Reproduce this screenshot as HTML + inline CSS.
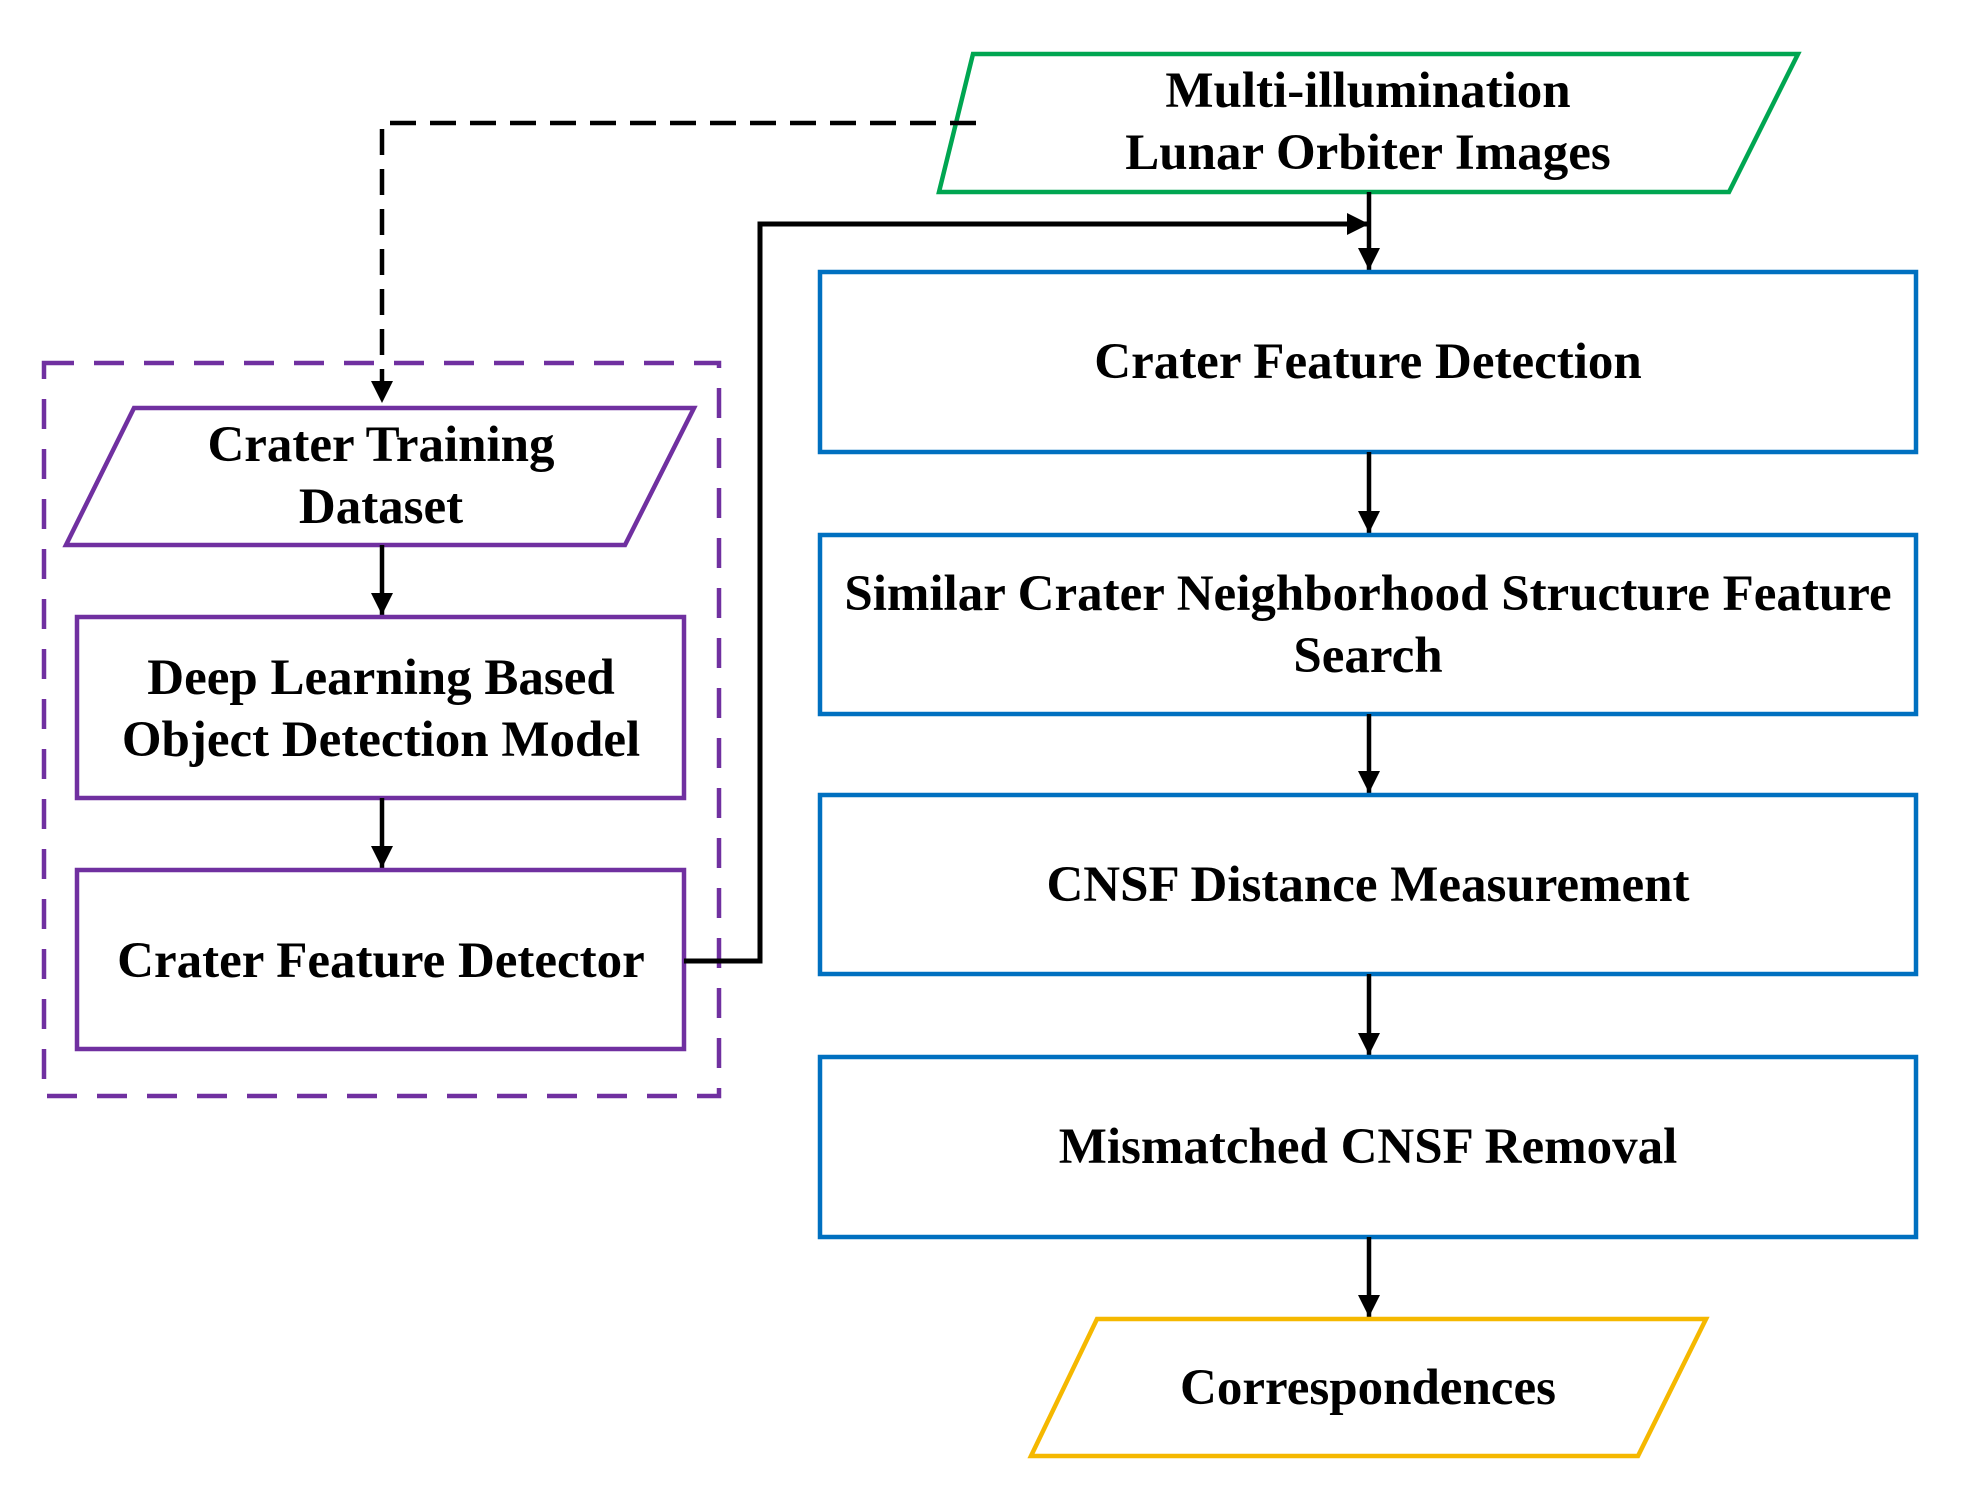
<!DOCTYPE html>
<html><head><meta charset="utf-8"><style>
html,body{margin:0;padding:0;background:#fff;}
svg{display:block;}
text{font-family:"Liberation Serif",serif;font-weight:bold;font-size:51px;fill:#000;text-anchor:middle;}
</style></head><body>
<svg width="1964" height="1506" viewBox="0 0 1964 1506" xmlns="http://www.w3.org/2000/svg">
<defs>
<marker id="b" viewBox="0 0 10 10" refX="10" refY="5" markerWidth="22" markerHeight="22" orient="auto" markerUnits="userSpaceOnUse"><path d="M0,0 L10,5 L0,10 z" fill="#000"/></marker>
</defs>
<polygon points="973,54 1798,54 1729,192 939,192" fill="none" stroke="#00a651" stroke-width="4.5"/>
<text x="1368" y="107">Multi-illumination</text>
<text x="1368" y="169">Lunar Orbiter Images</text>
<polyline points="976,123 382,123 382,403" fill="none" stroke="#000" stroke-width="4.5" stroke-dasharray="26,14" marker-end="url(#b)"/>
<rect x="44" y="363" width="675" height="733" fill="none" stroke="#7030a0" stroke-width="4.5" stroke-dasharray="30,20"/>
<polygon points="134,408 694,408 625,545 66,545" fill="none" stroke="#7030a0" stroke-width="4.5"/>
<text x="381" y="461">Crater Training</text>
<text x="381" y="523">Dataset</text>
<line x1="382" y1="545" x2="382" y2="615" stroke="#000" stroke-width="4.5" marker-end="url(#b)"/>
<rect x="77" y="617" width="607" height="181" fill="none" stroke="#7030a0" stroke-width="4.5"/>
<text x="381" y="694">Deep Learning Based</text>
<text x="381" y="756">Object Detection Model</text>
<line x1="382" y1="798" x2="382" y2="868" stroke="#000" stroke-width="4.5" marker-end="url(#b)"/>
<rect x="77" y="870" width="607" height="179" fill="none" stroke="#7030a0" stroke-width="4.5"/>
<text x="381" y="977">Crater Feature Detector</text>
<polyline points="684,961 760,961 760,224 1369,224" fill="none" stroke="#000" stroke-width="5" marker-end="url(#b)"/>
<line x1="1369" y1="192" x2="1369" y2="270" stroke="#000" stroke-width="4.5" marker-end="url(#b)"/>
<rect x="820" y="272" width="1096" height="180" fill="none" stroke="#0070c0" stroke-width="4.5"/>
<text x="1368" y="378">Crater Feature Detection</text>
<line x1="1369" y1="452" x2="1369" y2="533" stroke="#000" stroke-width="4.5" marker-end="url(#b)"/>
<rect x="820" y="535" width="1096" height="179" fill="none" stroke="#0070c0" stroke-width="4.5"/>
<text x="1368" y="610">Similar Crater Neighborhood Structure Feature</text>
<text x="1368" y="672">Search</text>
<line x1="1369" y1="714" x2="1369" y2="793" stroke="#000" stroke-width="4.5" marker-end="url(#b)"/>
<rect x="820" y="795" width="1096" height="179" fill="none" stroke="#0070c0" stroke-width="4.5"/>
<text x="1368" y="901">CNSF Distance Measurement</text>
<line x1="1369" y1="974" x2="1369" y2="1055" stroke="#000" stroke-width="4.5" marker-end="url(#b)"/>
<rect x="820" y="1057" width="1096" height="180" fill="none" stroke="#0070c0" stroke-width="4.5"/>
<text x="1368" y="1163">Mismatched CNSF Removal</text>
<line x1="1369" y1="1237" x2="1369" y2="1317" stroke="#000" stroke-width="4.5" marker-end="url(#b)"/>
<polygon points="1097,1319 1706,1319 1638,1456 1031,1456" fill="none" stroke="#f5b800" stroke-width="4.5"/>
<text x="1368" y="1404">Correspondences</text>
</svg>
</body></html>
